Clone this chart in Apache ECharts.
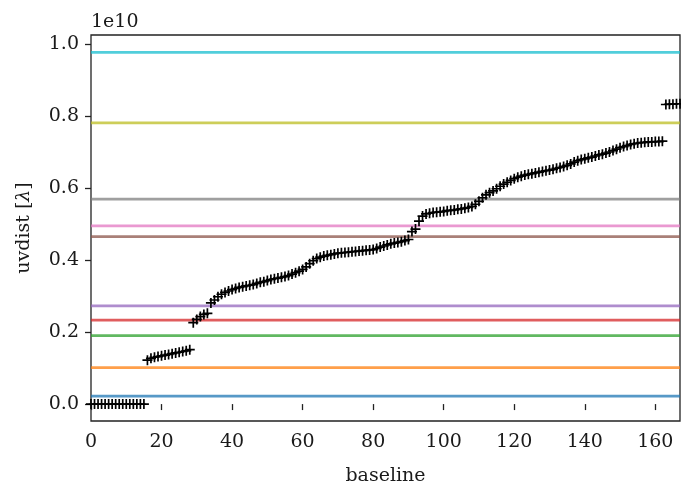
<!DOCTYPE html>
<html>
<head>
<meta charset="utf-8">
<script src="https://cdn.jsdelivr.net/npm/echarts@6/dist/echarts.min.js"></script>
<style>
html,body{margin:0;padding:0;background:#fff;}
#chart{width:681px;height:484px;}
</style>
</head>
<body>
<div id="chart"></div>
<script>
// uvdist per baseline, in units of 1e10 wavelengths (sorted)
const uvdist = [
  0.000,0.000,0.000,0.000,0.000,0.000,0.000,0.000,0.000,0.000,0.000,0.000,0.000,0.000,0.000,0.000,
  0.122,0.127,0.130,0.132,0.134,0.136,0.138,0.140,0.142,0.144,0.146,0.148,0.151,
  0.226,0.235,0.243,0.249,0.252,
  0.281,0.289,0.298,0.305,0.310,0.314,0.318,0.321,0.324,0.326,0.328,
  0.330,0.332,0.335,0.338,0.340,0.343,0.346,0.348,0.350,0.352,0.354,0.357,0.361,0.365,0.369,0.374,
  0.381,0.390,0.398,0.404,0.408,0.411,0.413,0.415,0.417,0.419,0.420,0.421,0.422,0.423,0.424,0.425,
  0.426,0.427,0.428,0.429,0.432,0.436,0.439,0.442,0.445,0.447,0.449,0.451,0.454,0.457,
  0.479,0.486,0.508,0.522,0.528,0.530,0.532,0.533,0.534,0.535,0.537,0.538,0.539,0.541,0.542,0.544,
  0.546,0.549,0.555,0.563,0.573,0.581,0.587,0.592,0.598,0.605,0.611,0.616,0.621,0.626,0.630,
  0.633,0.636,0.638,0.640,0.642,0.644,0.646,0.648,0.650,0.652,0.655,0.657,0.660,0.663,0.667,0.672,
  0.676,0.679,0.681,0.684,0.686,0.689,0.692,0.694,0.697,0.700,0.704,0.708,0.712,0.715,0.718,0.721,
  0.723,0.725,0.726,0.727,0.728,0.728,0.729,0.729,0.730,
  0.832,0.833,0.833,0.834,0.834
];
// horizontal reference levels (units of 1e10)
const hlineValues = [0.022, 0.101, 0.190, 0.233, 0.273, 0.465, 0.495, 0.569, 0.781, 0.977];
const hlineColors = ['#1f77b4','#ff7f0e','#2ca02c','#d62728','#9467bd','#8c564b','#e377c2','#7f7f7f','#bcbd22','#17becf'];
const xTicks = [0, 20, 40, 60, 80, 100, 120, 140, 160];
const yTicks = [0.0, 0.2, 0.4, 0.6, 0.8, 1.0];
const xMin = 0, xMax = 167;
const yMin = -0.047, yMax = 1.025;

const FONT = 'DejaVu Serif';
const TXT = '#1a1a1a';
const chart = echarts.init(document.getElementById('chart'), null, {renderer: 'canvas'});

const series = [];
hlineValues.forEach((v, k) => {
  series.push({
    type: 'line',
    data: [[xMin, v], [xMax, v]],
    showSymbol: false,
    silent: true,
    lineStyle: {color: hlineColors[k], width: 2.8, opacity: 0.75},
    z: 2
  });
});
series.push({
  type: 'scatter',
  data: uvdist.map((v, i) => [i, v]),
  symbol: 'path://M0,4.15H10V5.85H0Z M4.15,0H5.85V10H4.15Z',
  symbolSize: 10,
  itemStyle: {color: '#000', opacity: 1},
  z: 3
});

chart.setOption({
  animation: false,
  backgroundColor: '#fff',
  grid: {left: 91, right: 1, top: 35, bottom: 63, show: true, borderColor: '#222', borderWidth: 1.3,
    backgroundColor: 'transparent', containLabel: false, outerBoundsMode: 'none'},
  xAxis: {
    type: 'value', min: xMin, max: xMax,
    name: 'baseline', nameLocation: 'middle', nameGap: 46,
    nameTextStyle: {fontFamily: FONT, fontSize: 19, color: TXT},
    axisLine: {show: false},
    axisTick: {show: true, inside: false, length: 6, lineStyle: {color: '#222', width: 1.3}, customValues: xTicks},
    axisLabel: {customValues: xTicks, fontFamily: FONT, fontSize: 19, color: TXT, margin: 12},
    splitLine: {show: false}
  },
  yAxis: {
    type: 'value', min: yMin, max: yMax,
    name: '{a|uvdist [}{b|λ}{a|]}', nameLocation: 'middle', nameGap: 57, nameRotate: 90,
    nameTextStyle: {
      fontFamily: FONT, fontSize: 19, color: TXT,
      rich: {
        a: {fontFamily: FONT, fontSize: 19, color: TXT},
        b: {fontFamily: FONT, fontSize: 19, color: TXT, fontStyle: 'italic'}
      }
    },
    axisLine: {show: false},
    axisTick: {show: true, inside: false, length: 6, lineStyle: {color: '#222', width: 1.3}, customValues: yTicks},
    axisLabel: {customValues: yTicks, fontFamily: FONT, fontSize: 19, color: TXT, margin: 12,
      formatter: v => v.toFixed(1)},
    splitLine: {show: false}
  },
  graphic: [{
    type: 'text', left: 91, top: 13,
    style: {text: '1e10', font: '19px "DejaVu Serif"', fill: TXT}
  }],
  series: series
});
</script>
</body>
</html>
